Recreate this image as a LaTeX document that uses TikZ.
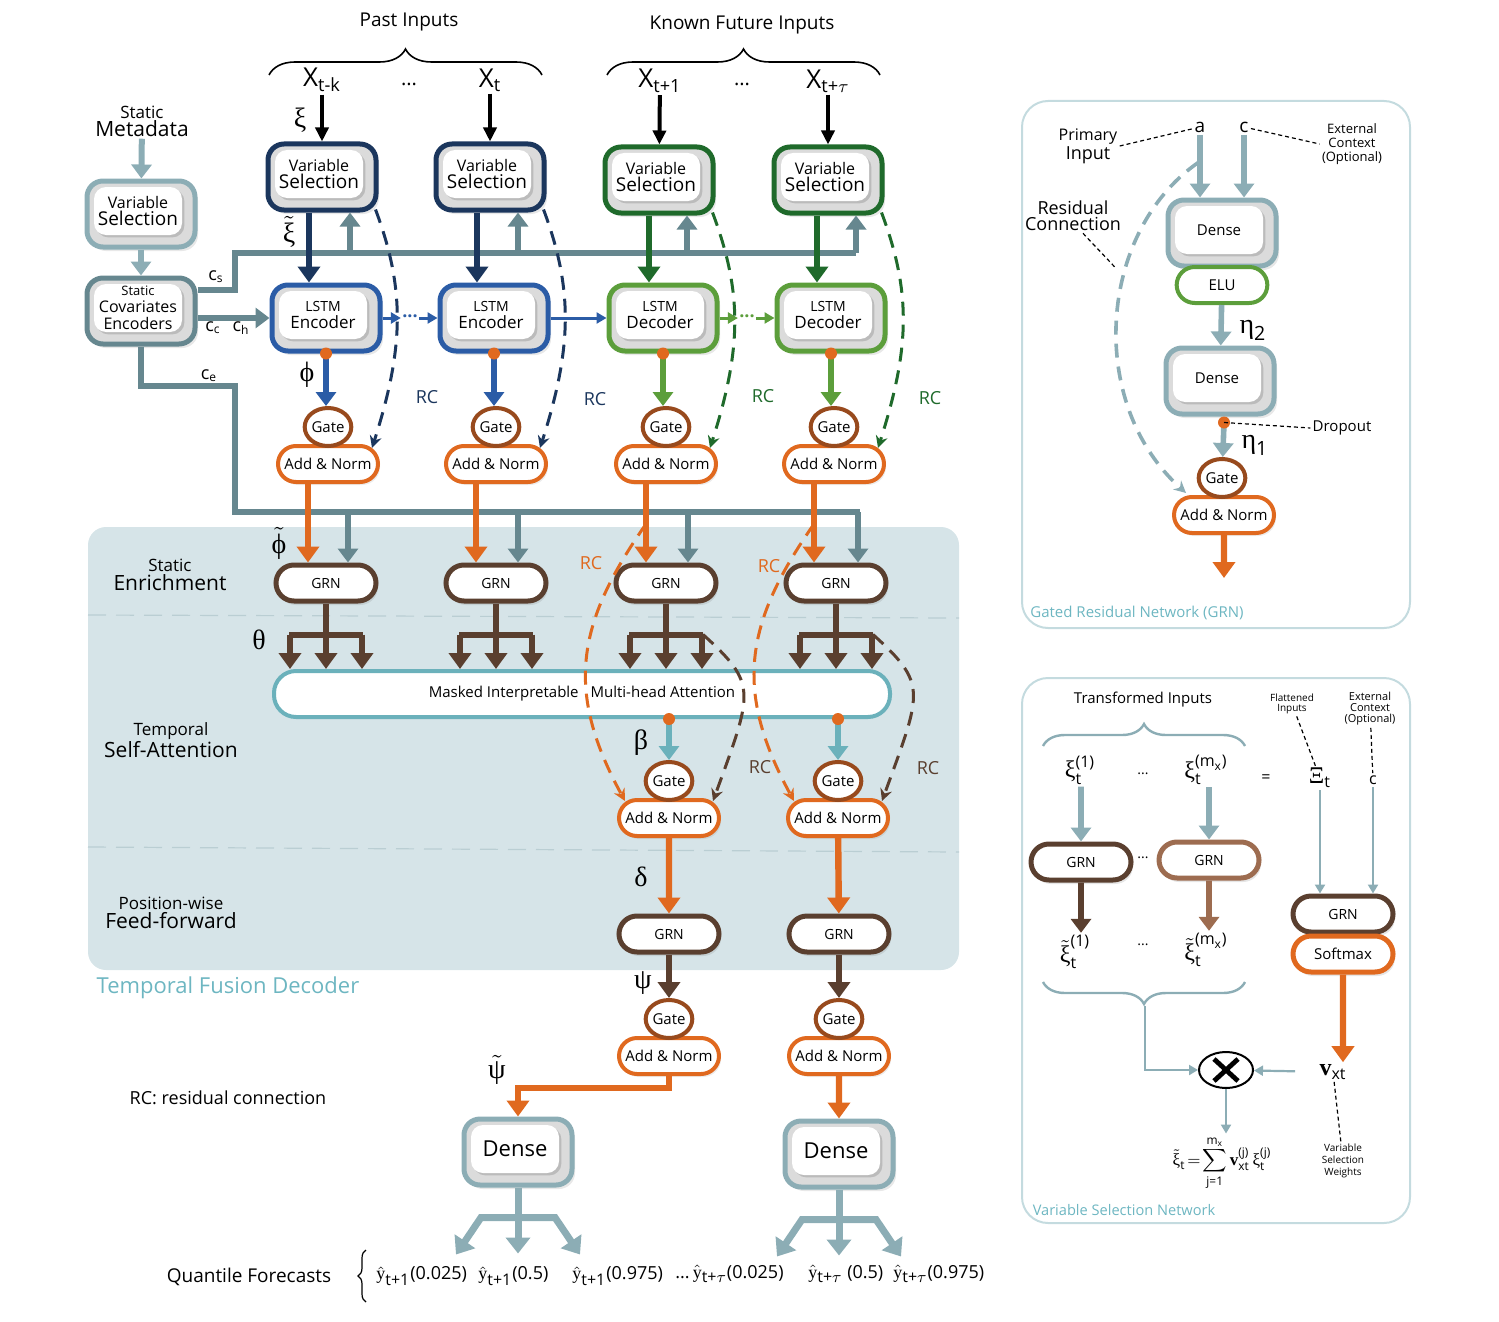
\documentclass[tikz,border=0pt]{standalone}
\usepackage{fontspec}
\setmainfont{Open Sans}
\newfontfamily\grk{Liberation Serif}
\usepackage{amsmath}
\usetikzlibrary{arrows.meta,shapes.geometric,shapes.misc,shadows,decorations.pathreplacing,calc}

\definecolor{navy}{HTML}{1B365D}
\definecolor{encblue}{HTML}{2B5CA6}
\definecolor{vsgreen}{HTML}{1F6A2B}
\definecolor{decgreen}{HTML}{5C9E3B}
\definecolor{ctxgrey}{HTML}{66878F}
\definecolor{lightgrey}{HTML}{8CADB5}
\definecolor{tforange}{HTML}{E0691F}
\definecolor{gatebrown}{HTML}{984A1D}
\definecolor{grnbrown}{HTML}{5A3F2F}
\definecolor{lightbrown}{HTML}{9D6C50}
\definecolor{attteal}{HTML}{6BB1BB}
\definecolor{tfdbg}{HTML}{D6E4E8}
\definecolor{panelline}{HTML}{C4DBDF}
\definecolor{paneltext}{HTML}{6DB6C1}

\newcommand{\tsize}[1]{\fontsize{#1}{#1}\selectfont}
\newcommand{\yhat}[1]{$\hat{\text{\grk y}}_{\text{\tsize{8}#1}}$}

\tikzset{
  outerbox/.style={rounded corners=8pt, line width=2.5pt, fill=black!14,
    minimum width=54pt, minimum height=33pt, inner sep=0pt,
    drop shadow={opacity=0.18, shadow xshift=1.5pt, shadow yshift=-2pt}},
  innerbox/.style={rounded corners=6pt, fill=white, minimum width=44pt,
    minimum height=24pt, inner sep=1pt, align=center, font=\fontsize{9}{8.5}\selectfont,
    drop shadow={opacity=0.35, shadow xshift=1.2pt, shadow yshift=-1.2pt}},
  gate/.style={ellipse, draw=gatebrown, line width=2pt, fill=white,
    minimum width=23pt, minimum height=19pt, inner sep=0pt, font=\tsize{7.5}},
  addnorm/.style={rounded rectangle, draw=tforange, line width=2pt, fill=white,
    minimum width=52pt, minimum height=18pt, inner sep=1pt, font=\tsize{7.5},
    drop shadow={opacity=0.15, shadow xshift=1pt, shadow yshift=-1.5pt}},
  grn/.style={rounded rectangle, draw=grnbrown, line width=2.5pt, fill=white,
    minimum width=52pt, minimum height=18pt, inner sep=1pt, font=\tsize{7},
    drop shadow={opacity=0.2, shadow xshift=1pt, shadow yshift=-2pt}},
  attn/.style={rounded corners=11pt, draw=attteal, line width=2pt, fill=white,
    minimum width=308pt, minimum height=23pt, font=\tsize{7.5}},
  lbl/.style={align=center, inner sep=1pt},
  greek/.style={inner sep=1pt, font=\grk\tsize{14}},
  rclbl/.style={inner sep=1pt, font=\tsize{9}},
  qv/.style={anchor=west, inner sep=0pt, font=\tsize{9}},
  section/.style={align=center, font=\fontsize{10.5}{9.5}\selectfont},
  panel/.style={draw=panelline, line width=1pt, rounded corners=13pt},
  ctxline/.style={draw=ctxgrey, line width=3pt},
  ctxarrow/.style={ctxline, -{Triangle[length=7pt,width=10pt]}},
  fat/.style={line width=3.2pt, -{Triangle[length=8pt,width=11pt]}},
  mid/.style={line width=2.8pt, -{Triangle[length=7pt,width=10pt]}},
  inarrow/.style={line width=2pt, -{Triangle[length=7pt,width=6.5pt]}},
  chain/.style={line width=1.5pt, -{Triangle[length=5pt,width=5.5pt]}},
  rc/.style={line width=1.5pt, dash pattern=on 7pt off 4.5pt,
    -{Stealth[length=6pt,width=6pt,inset=2pt]}},
  thin/.style={line width=1.1pt, lightgrey, -{Triangle[length=4.5pt,width=5pt]}},
  hint/.style={line width=0.6pt, dash pattern=on 2pt off 1.5pt},
  sepline/.style={draw=lightgrey!60, line width=0.6pt, dash pattern=on 9pt off 5pt},
  topbrace/.style={decorate, decoration={brace, amplitude=13pt}, line width=0.8pt},
  vbrace/.style={decorate, decoration={brace, amplitude=11pt}, line width=1.2pt, draw=lightgrey},
  qline/.style={draw=lightgrey, line width=3.5pt},
  qarrow/.style={qline, lightgrey, -{Triangle[length=8pt,width=12pt]}},
}

% two-layer box: coloured frame with a white card inside
\newcommand{\unitbox}[5]{%
  \node[outerbox, draw=#4] (#1) at (#2,#3) {};
  \node[innerbox] (#1in) at ([xshift=-1.5pt,yshift=1.5pt]#1.center) {#5};%
}

\begin{document}
\begin{tikzpicture}[x=0.5pt,y=-0.5pt]
\useasboundingbox (0,0) rectangle (1499,1322);

% temporal fusion decoder
\fill[tfdbg, rounded corners=9pt] (88,527) rectangle (959,970);
\draw[sepline] (88,615) -- (959,618);
\draw[sepline] (88,847) -- (959,852);
\node[lbl, text=paneltext, font=\tsize{11}] (tfdname) at (228,988) {Temporal Fusion Decoder};
\node[section] (enrich) at (170,575) {{\tsize{8.5}Static}\\Enrichment};
\node[section] (selfatt) at (171,740) {{\tsize{8.5}Temporal}\\Self-Attention};
\node[section] (ffwd) at (171,913) {{\tsize{8.5}Position-wise}\\Feed-forward};

% inputs
\node[lbl, font=\tsize{9.5}] (past) at (409,22) {Past Inputs};
\node[lbl, font=\tsize{9.5}] (future) at (742,25) {Known Future Inputs};
\draw[topbrace] (269,75) -- (542,75);
\draw[topbrace] (607,75) -- (880,75);
\node[lbl, font=\tsize{13}] (xk) at (322,80) {$\mathrm{X}_{\text{t-k}}$};
\node[lbl, font=\tsize{10}] (pdots) at (409,84) {...};
\node[lbl, font=\tsize{13}] (xt) at (490,80) {$\mathrm{X}_{\text{t}}$};
\node[lbl, font=\tsize{13}] (xn) at (660,81) {$\mathrm{X}_{\text{t+1}}$};
\node[lbl, font=\tsize{10}] (fdots) at (742,84) {...};
\node[lbl, font=\tsize{13}] (xh) at (828,81) {$\mathrm{X}_{\text{t+}\tau}$};

% static covariates
\node[lbl, font=\fontsize{10.5}{9}\selectfont] (meta) at (142,121) {{\tsize{8.5}Static}\\Metadata};
\unitbox{svs}{141}{214}{lightgrey}{{\tsize{8}Variable}\\{\tsize{9.5}Selection}}
\unitbox{sce}{141}{311}{ctxgrey}{{\tsize{6.5}Static}\\{\tsize{8}Covariates}\\{\tsize{8}Encoders}}

% variable selection
\unitbox{vsk}{322}{177}{navy}{{\tsize{8}Variable}\\{\tsize{9.5}Selection}}
\unitbox{vst}{490}{177}{navy}{{\tsize{8}Variable}\\{\tsize{9.5}Selection}}
\unitbox{vsn}{659}{180}{vsgreen}{{\tsize{8}Variable}\\{\tsize{9.5}Selection}}
\unitbox{vsh}{828}{180}{vsgreen}{{\tsize{8}Variable}\\{\tsize{9.5}Selection}}

% lstm encoder / decoder
\unitbox{enck}{326}{318}{encblue}{{\tsize{7}LSTM}\\{\tsize{8.5}Encoder}}
\unitbox{enct}{494}{318}{encblue}{{\tsize{7}LSTM}\\{\tsize{8.5}Encoder}}
\unitbox{decn}{663}{318}{decgreen}{{\tsize{7}LSTM}\\{\tsize{8.5}Decoder}}
\unitbox{dech}{831}{318}{decgreen}{{\tsize{7}LSTM}\\{\tsize{8.5}Decoder}}
\node[inner sep=0.5pt, text=encblue, font=\bfseries\tsize{9}] (dotsk) at (410,316) {...};
\node[inner sep=0.5pt, text=decgreen, font=\bfseries\tsize{9}] (dotsn) at (747,316) {...};

% gates after lstm
\node[addnorm] (ank) at (328,464) {Add \& Norm};
\node[addnorm] (ant) at (496,464) {Add \& Norm};
\node[addnorm] (ann) at (666,464) {Add \& Norm};
\node[addnorm] (anh) at (834,464) {Add \& Norm};
\node[gate] (gk) at (328,427) {Gate};
\node[gate] (gt) at (496,427) {Gate};
\node[gate] (gn) at (666,427) {Gate};
\node[gate] (gh) at (834,427) {Gate};

% static enrichment
\node[grn] (sk) at (326,583) {GRN};
\node[grn] (st) at (496,583) {GRN};
\node[grn] (sn) at (666,583) {GRN};
\node[grn] (sh) at (836,583) {GRN};

% self-attention
\node[attn] (att) at (582,694) {Masked Interpretable \; Multi-head Attention};
\node[addnorm] (aan) at (669,818) {Add \& Norm};
\node[addnorm] (aah) at (838,818) {Add \& Norm};
\node[gate] (agn) at (669,781) {Gate};
\node[gate] (agh) at (838,781) {Gate};

% position-wise feed-forward
\node[grn] (fn) at (669,934) {GRN};
\node[grn] (fh) at (839,934) {GRN};
\node[addnorm] (oan) at (669,1056) {Add \& Norm};
\node[addnorm] (oah) at (839,1056) {Add \& Norm};
\node[gate] (ogn) at (669,1019) {Gate};
\node[gate] (ogh) at (839,1019) {Gate};

% dense output
\unitbox{dn}{518}{1152}{lightgrey}{\tsize{11}Dense}
\unitbox{dh}{839}{1154}{lightgrey}{\tsize{11}Dense}

% greek labels
\node[greek] at (300,120) {ξ};
\node[greek] at (289,232) {$\tilde{\text{ξ}}$};
\node[greek] at (307,375) {ϕ};
\node[greek] at (279,543) {$\tilde{\text{ϕ}}$};
\node[greek] at (259,640) {θ};
\node[greek] at (641,743) {β};
\node[greek] at (641,877) {δ};
\node[greek] at (643,983) {ψ};
\node[greek] at (497,1070) {$\tilde{\text{ψ}}$};
\node[lbl, font=\tsize{9}] at (216,277) {$\mathrm{c}_{\mathrm{s}}$};
\node[lbl, font=\tsize{9}] at (213,328) {$\mathrm{c}_{\mathrm{c}}$};
\node[lbl, font=\tsize{9}] at (241,328) {$\mathrm{c}_{\mathrm{h}}$};
\node[lbl, font=\tsize{9}] at (209,376) {$\mathrm{c}_{\mathrm{e}}$};

% context lines
\coordinate (csbus) at (235,253);
\coordinate (cebus) at (235,512);
\draw[ctxarrow, lightgrey] (meta) -- (svs);
\draw[ctxarrow, lightgrey] (svs) -- (sce);
\draw[ctxline] ([yshift=10.5pt]sce.east) -| (csbus) -- (856,253);
\foreach \v in {vsk,vst,vsn,vsh}
  \draw[ctxarrow] ($(\v.south |- csbus)+(28,0)$) -- ($(\v.south)+(28,0)$);
\draw[ctxarrow] (sce.east |- enck) -- (enck);
\draw[ctxline] (sce.south) |- (235,386) |- (860,512);
\foreach \g in {sk,st,sn,sh}
  \draw[ctxarrow] ($(\g.north |- cebus)+(22,0)$) -- ($(\g.north)+(22,0)$);

% inputs into variable selection
\draw[inarrow] (xk) -- (vsk);
\draw[inarrow] (xt) -- (vst);
\draw[inarrow] (xn) -- (vsn);
\draw[inarrow] (xh) -- (vsh);

% variable selection into lstm
\draw[fat, navy] ($(vsk.south)+(-13,0)$) -- ($(vsk.south |- enck.north)+(-13,0)$);
\draw[fat, navy] ($(vst.south)+(-13,0)$) -- ($(vst.south |- enct.north)+(-13,0)$);
\draw[fat, vsgreen] ($(vsn.south)+(-10,0)$) -- ($(vsn.south |- decn.north)+(-10,0)$);
\draw[fat, vsgreen] ($(vsh.south)+(-11,0)$) -- ($(vsh.south |- dech.north)+(-11,0)$);

% lstm chain
\draw[chain, encblue] (enck) -- (dotsk.west |- enck);
\draw[chain, encblue] (dotsk.east |- enct) -- (enct);
\draw[chain, encblue] (enct) -- (decn);
\draw[chain, decgreen] (decn) -- (dotsn.west |- decn);
\draw[chain, decgreen] (dotsn.east |- dech) -- (dech);

% lstm outputs into gates
\draw[mid, encblue] (enck.south) -- (enck.south |- gk.north);
\draw[mid, encblue] (enct.south) -- (enct.south |- gt.north);
\draw[mid, decgreen] (decn.south) -- (decn.south |- gn.north);
\draw[mid, decgreen] (dech.south) -- (dech.south |- gh.north);
\foreach \l in {enck,enct,decn,dech}
  \fill[tforange] (\l.south) circle (3pt);

% add & norm into static enrichment
\foreach \a/\s in {ank/sk,ant/st,ann/sn,anh/sh}
  \draw[fat, tforange] ($(\a.south)+(-20,0)$) -- ($(\a.south |- \s.north)+(-20,0)$);

% enrichment into attention
\foreach \g in {sk,st,sn,sh} {
  \draw[line width=3pt, grnbrown] (\g.south) -- ++(0,31) coordinate (\g-bar);
  \draw[line width=3pt, grnbrown] ($(\g-bar)+(-37,0)$) -- ($(\g-bar)+(37,0)$);
  \foreach \dx in {-36,0,36}
    \draw[fat, grnbrown] ($(\g-bar)+(\dx,0)$) -- ($(\g-bar |- att.north)+(\dx,0)$);
}

% attention into gates
\draw[mid, attteal] (att.south -| agn) -- (agn);
\draw[mid, attteal] (att.south -| agh) -- (agh);
\fill[tforange] (att.south -| agn) circle (3pt);
\fill[tforange] (att.south -| agh) circle (3pt);

% feed-forward and output
\draw[fat, tforange] (aan) -- (fn);
\draw[fat, tforange] (aah) -- (fh);
\draw[fat, grnbrown] (fn) -- (ogn);
\draw[fat, grnbrown] (fh) -- (ogh);
\draw[fat, tforange] (oan.south) -- ++(0,12) -| (dn.north);
\draw[fat, tforange] (oah) -- (dh);

% quantile outputs
\foreach \d in {dn,dh} {
  \draw[qline] (\d.south) -- ++(0,30) coordinate (\d-q);
  \draw[qarrow] (\d-q) -- ++(0,36);
  \draw[qarrow] (\d-q) -- ++(-37,0) -- ++(-25,37);
  \draw[qarrow] (\d-q) -- ++(37,0) -- ++(25,37);
}

% residual connections
\draw[rc, navy] ($(vsk.south east)+(-3,-3)$) .. controls +(30,80) and +(32,-100) .. ($(ank.north)+(44,4)$);
\draw[rc, navy] ($(vst.south east)+(-3,-3)$) .. controls +(30,80) and +(32,-100) .. ($(ant.north)+(44,4)$);
\draw[rc, vsgreen] ($(vsn.south east)+(-3,-3)$) .. controls +(30,80) and +(32,-100) .. ($(ann.north)+(44,4)$);
\draw[rc, vsgreen] ($(vsh.south east)+(-3,-3)$) .. controls +(30,80) and +(32,-100) .. ($(anh.north)+(44,4)$);
\node[rclbl, text=navy] at (427,397) {RC};
\node[rclbl, text=navy] at (595,399) {RC};
\node[rclbl, text=vsgreen] at (763,396) {RC};
\node[rclbl, text=vsgreen] at (930,398) {RC};
\draw[rc, tforange] ($(ann.south)+(-20,40)$) .. controls +(-70,100) and +(-60,-110) .. ($(aan.north)+(-44,3)$);
\draw[rc, tforange] ($(anh.south)+(-20,40)$) .. controls +(-70,100) and +(-60,-110) .. ($(aah.north)+(-44,3)$);
\draw[rc, grnbrown] ($(sn-bar)+(37,0)$) .. controls +(55,50) and +(40,-110) .. ($(aan.north)+(44,3)$);
\draw[rc, grnbrown] ($(sh-bar)+(37,0)$) .. controls +(55,50) and +(40,-110) .. ($(aah.north)+(44,3)$);
\node[rclbl, text=tforange] at (591,563) {RC};
\node[rclbl, text=tforange] at (769,566) {RC};
\node[rclbl, text=grnbrown] at (760,767) {RC};
\node[rclbl, text=grnbrown] at (928,768) {RC};

% forecasts
\node[lbl, font=\tsize{9}] (rcnote) at (228,1098) {RC: residual connection};
\node[lbl, font=\tsize{9.5}] (qlabel) at (249,1277) {Quantile Forecasts};
\draw[decorate, decoration={brace, amplitude=4pt}, line width=0.6pt] (366,1302) -- (366,1250);
\node[qv] (q1) at (376,1276) {\yhat{t+1}(0.025)};
\node[qv] (q2) at (478,1276) {\yhat{t+1}(0.5)};
\node[qv] (q3) at (572,1276) {\yhat{t+1}(0.975)};
\node[qv] (q4) at (675,1274) {...\,\yhat{t+$\tau$}(0.025)};
\node[qv] (q5) at (808,1274) {\yhat{t+$\tau$} (0.5)};
\node[qv] (q6) at (893,1274) {\yhat{t+$\tau$}(0.975)};

% gated residual network panel
\draw[panel] (1022,101) rectangle (1410,628);
\node[lbl, font=\tsize{9.5}] (ga) at (1200,127) {a};
\node[lbl, font=\tsize{9.5}] (gc) at (1244,127) {c};
\node[lbl, font=\fontsize{8}{7.5}\selectfont] (gprim) at (1088,146) {Primary\\{\tsize{9}Input}};
\node[lbl, font=\fontsize{6.5}{7}\selectfont] (gext) at (1352,144) {External\\Context\\(Optional)};
\draw[hint] (gprim.east) -- (ga);
\draw[hint] (gc) -- (gext.west);
\unitbox{gd1}{1222}{233}{lightgrey}{\tsize{7.5}Dense}
\node[rounded rectangle, draw=decgreen, line width=2pt, fill=white, minimum width=52pt,
  minimum height=18pt, font=\tsize{7.5}] (gelu) at (1222,285) {ELU};
\unitbox{gd2}{1220}{381}{lightgrey}{\tsize{7.5}Dense}
\node[addnorm] (gan) at (1224,515) {Add \& Norm};
\node[gate] (gg) at (1222,478) {Gate};
\draw[mid, lightgrey] (ga) -- (ga |- gd1.north);
\draw[mid, lightgrey] (gc) -- (gc |- gd1.north);
\draw[mid, lightgrey] (gelu) -- (gd2);
\coordinate (gdrop) at ($(gd2.south)+(4,6)$);
\draw[mid, lightgrey] (gdrop) -- (gg);
\fill[tforange] (gdrop) circle (3pt);
\node[lbl, font=\tsize{7.5}] (gdo) at (1342,428) {Dropout};
\draw[hint] (gdrop) -- (gdo.west);
\draw[fat, tforange] (gan) -- ++(0,63);
\node[greek] at (1253,330) {$\text{η}_{\text{\normalfont 2}}$};
\node[greek] at (1255,445) {$\text{η}_{\text{\normalfont 1}}$};
\draw[rc, lightgrey, line width=1.8pt] ($(ga.south)+(-2,28)$) .. controls +(-100,70) and +(-100,-90) .. ($(gan.north)+(-38,-2)$);
\node[lbl, font=\fontsize{9}{8}\selectfont] (gres) at (1073,216) {Residual\\Connection};
\draw[hint] ($(gres.south)+(10,0)$) -- ++(33,35);
\node[lbl, text=paneltext, font=\tsize{7.5}] at (1137,613) {Gated Residual Network (GRN)};

% variable selection network panel
\draw[panel] (1022,678) rectangle (1410,1223);
\node[lbl, font=\tsize{7.5}] (vti) at (1143,700) {Transformed Inputs};
\draw[vbrace] (1043,746) -- (1245,746);
\node[lbl, font=\tsize{12}] (vx1) at (1080,770) {$\text{\grk ξ}^{\text{(1)}}_{\text{t}}$};
\node[lbl, font=\tsize{7}] at (1143,774) {...};
\node[lbl, font=\tsize{12}] (vxm) at (1206,770) {$\text{\grk ξ}^{\text{(m}_{\text{x}}\text{)}}_{\text{t}}$};
\node[lbl, font=\tsize{8}] at (1266,779) {=};
\node[lbl, font=\tsize{12}] (vXi) at (1320,778) {$\text{\grk Ξ}_{\text{t}}$};
\node[lbl, font=\tsize{8}] (vc) at (1373,780) {c};
\node[lbl, font=\fontsize{5}{5}\selectfont] (vflat) at (1292,704) {Flattened\\Inputs};
\node[lbl, font=\fontsize{5.5}{5.5}\selectfont] (vext) at (1370,709) {External\\Context\\(Optional)};
\draw[hint] (vflat) -- (vXi);
\draw[hint] (vext) -- (vc);
\node[grn] (vg1) at (1081,862) {GRN};
\node[grn, draw=lightbrown] (vgm) at (1209,860) {GRN};
\node[lbl, font=\tsize{7}] at (1143,858) {...};
\draw[mid, lightgrey] (vg1 |- vx1.south) -- (vg1);
\draw[mid, lightgrey] (vgm |- vxm.south) -- (vgm);
\node[lbl, font=\tsize{12}] (vt1) at (1075,952) {$\tilde{\text{\grk ξ}}^{\text{(1)}}_{\text{t}}$};
\node[lbl, font=\tsize{7}] at (1143,945) {...};
\node[lbl, font=\tsize{12}] (vtm) at (1206,950) {$\tilde{\text{\grk ξ}}^{\text{(m}_{\text{x}}\text{)}}_{\text{t}}$};
\draw[mid, grnbrown] (vg1) -- (vg1 |- vt1.north);
\draw[mid, lightbrown] (vgm) -- (vgm |- vtm.north);
\draw[vbrace] (1245,982) -- (1043,982);
\node[ellipse, draw, line width=1pt, minimum width=27pt, minimum height=18pt] (vmul) at (1226,1070) {};
\draw[line width=2.4pt] ($(vmul)+(-12,-11)$) -- ($(vmul)+(12,11)$);
\draw[line width=2.4pt] ($(vmul)+(-12,11)$) -- ($(vmul)+(12,-11)$);
\coordinate (vbt) at (1145,1006);
\draw[thin] (vbt) |- (vmul);
\node[grn] (vgs) at (1343,914) {GRN};
\node[grn, draw=tforange, font=\tsize{7.5}] (vsm) at (1343,954) {Softmax};
\draw[thin] (vXi) -- (vXi |- vgs.north);
\draw[thin] (vc) -- (vc |- vgs.north);
\node[lbl, font=\tsize{12}] (vv) at (1333,1072) {$\text{\grk\bfseries v}_{\text{xt}}$};
\draw[fat, tforange] (vsm) -- (vsm |- vv.north);
\draw[thin, shorten <=11pt] (vv) -- (vmul);
\node[lbl, font=\tsize{8.5}] (vform) at (1222,1163) {$\tilde{\text{\grk ξ}}_{\text{t}}\!=\!\displaystyle\sum_{\text{j=1}}^{\text{m}_{\text{x}}}\text{\grk\bfseries v}_{\text{xt}}^{\text{(j)}}\,\text{\grk ξ}_{\text{t}}^{\text{(j)}}$};
\draw[thin] (vmul) -- (vmul |- vform.north);
\node[lbl, font=\fontsize{5}{6}\selectfont] (vw) at (1343,1161) {Variable\\Selection\\Weights};
\draw[hint] (vv) -- (vw);
\node[lbl, text=paneltext, font=\tsize{7.3}] at (1124,1210) {Variable Selection Network};
\end{tikzpicture}
\end{document}
